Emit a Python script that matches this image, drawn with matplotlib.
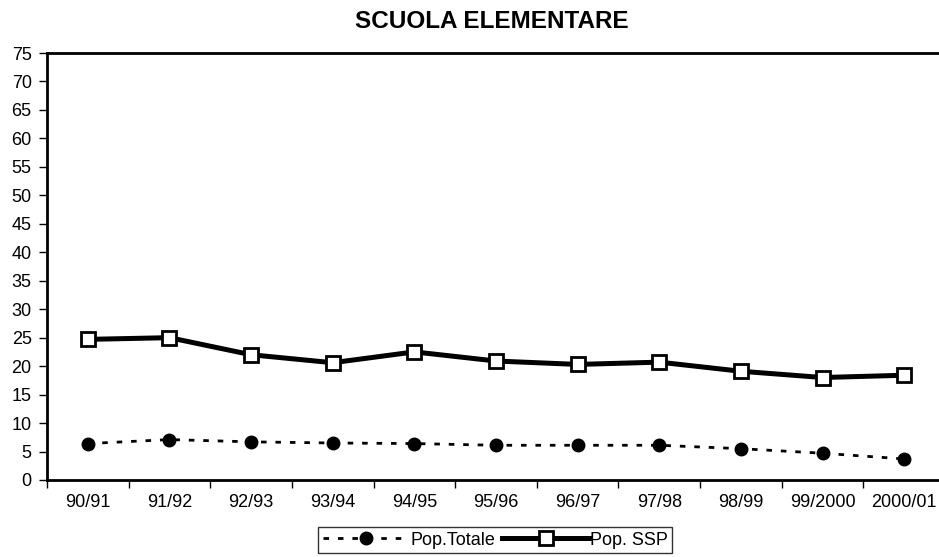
import matplotlib
matplotlib.use('Agg')
import matplotlib.pyplot as plt

# dati
anni = ['90/91', '91/92', '92/93', '93/94', '94/95', '95/96', '96/97',
        '97/98', '98/99', '99/2000', '2000/01']
pop_totale = [6.4, 7.1, 6.7, 6.5, 6.4, 6.1, 6.1, 6.1, 5.5, 4.7, 3.7]
pop_ssp = [24.7, 25.0, 22.0, 20.6, 22.5, 20.9, 20.3, 20.7, 19.1, 18.0, 18.4]

plt.rcParams['font.family'] = ['Liberation Sans', 'DejaVu Sans']

fig = plt.figure(figsize=(9.39, 5.57), dpi=100)
# asse che sborda un po' a destra come nell'originale
ax = fig.add_axes([47/939, 1 - 480/557, 898/939, 427/557])

x = list(range(len(anni)))
ax.plot(x, pop_totale, linestyle=(0, (2, 3.2)), color='black', linewidth=2,
        marker='o', markersize=9, markerfacecolor='black',
        markeredgecolor='black', label='Pop.Totale')
ax.plot(x, pop_ssp, linestyle='-', color='black', linewidth=3.6,
        marker='s', markersize=9.5, markerfacecolor='white',
        markeredgecolor='black', markeredgewidth=2, label='Pop. SSP')

ax.set_xlim(-0.5, len(anni) - 0.5)
ax.set_ylim(0, 75)
ax.set_yticks(range(0, 80, 5))
ax.set_xticks(x)
ax.set_xticklabels(anni)
ax.set_xticks([i + 0.5 for i in range(-1, len(anni))], minor=True)
ax.tick_params(axis='x', which='major', length=0, pad=10, labelsize=13)
ax.tick_params(axis='x', which='minor', length=6, width=1, direction='out')
ax.tick_params(axis='y', length=6, width=1, labelsize=13, pad=5)

for s in ['left', 'top', 'bottom']:
    ax.spines[s].set_linewidth(2)
ax.spines['right'].set_visible(False)

fig.text(492/939, 1 - 22/557, 'SCUOLA ELEMENTARE', ha='center', va='center',
         fontsize=17.5, fontweight='bold')

leg = fig.legend(loc='upper left', bbox_to_anchor=(318/939, 1 - 527/557),
                 ncol=2, frameon=True, fancybox=False, fontsize=13,
                 handlelength=4.8, handletextpad=0.05, columnspacing=0.4,
                 borderpad=0.25, borderaxespad=0)
leg.get_frame().set_edgecolor('black')
leg.get_frame().set_linewidth(1)

fig.savefig('out.png', dpi=100)
